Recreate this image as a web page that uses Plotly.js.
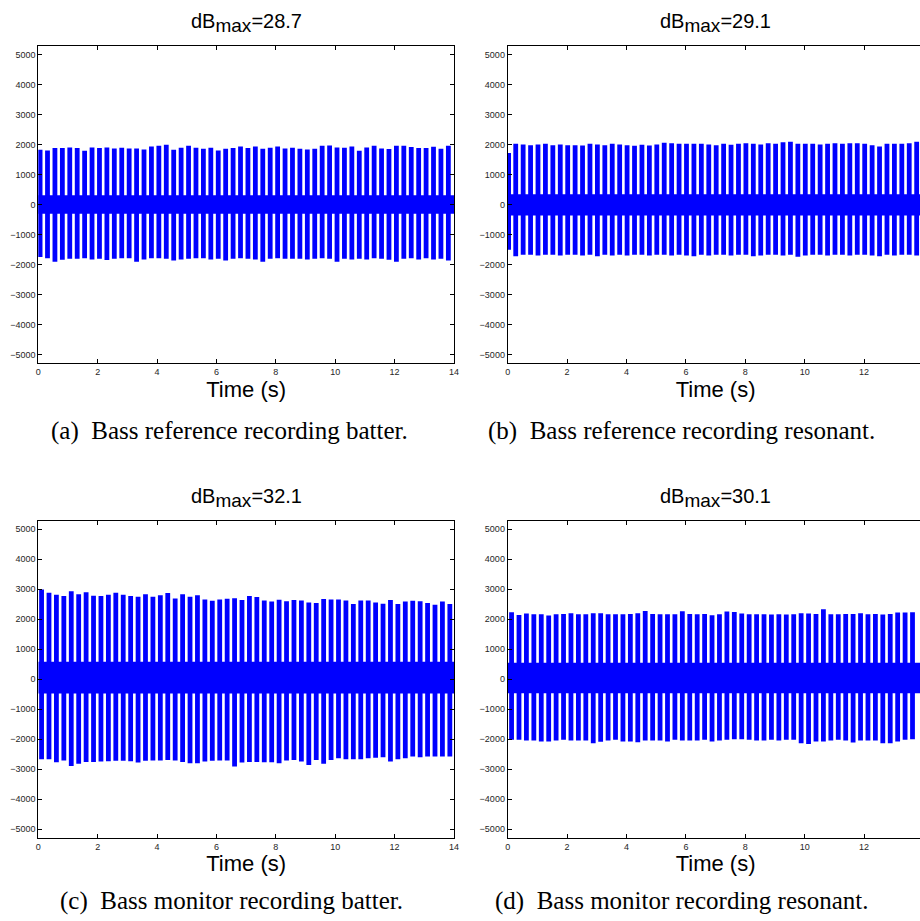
<!DOCTYPE html>
<html>
<head>
<meta charset="utf-8">
<script src="https://cdn.plot.ly/plotly-3.0.1.min.js"></script>
<style>
html,body{margin:0;padding:0;overflow:hidden;background:#fff;width:920px;height:921px;}
#chart{width:924px;height:921px;}
</style>
</head>
<body>
<div id="chart"></div>
<script>
// ---------- data ----------
const TITLE_BASE = "dB";
const TITLE_SUB = "max";
const DB_MAX = ["28.7", "29.1", "32.1", "30.1"];
const CAPTIONS = [
  "(a)\u00a0\u00a0Bass reference recording batter.",
  "(b)\u00a0\u00a0Bass reference recording resonant.",
  "(c)\u00a0\u00a0Bass monitor recording batter.",
  "(d)\u00a0\u00a0Bass monitor recording resonant."
];
const X_TICKS = [0, 2, 4, 6, 8, 10, 12, 14];
const Y_TICKS = [-5000, -4000, -3000, -2000, -1000, 0, 1000, 2000, 3000, 4000, 5000];
const X_LABEL = "Time (s)";

// (a) reference batter: beat times (s), positive peaks, negative troughs
const TIME_A = [
  0.06,0.31,0.56,0.81,1.06,1.31,1.56,1.81,
  2.06,2.31,2.56,2.81,3.06,3.31,3.56,3.81,
  4.06,4.31,4.56,4.81,5.06,5.31,5.56,5.81,
  6.06,6.31,6.56,6.81,7.06,7.31,7.56,7.81,
  8.06,8.31,8.56,8.81,9.06,9.31,9.56,9.81,
  10.06,10.31,10.56,10.81,11.06,11.31,11.56,11.81,
  12.06,12.31,12.56,12.81,13.06,13.31,13.56,13.81];
const PEAK_A = [
  1835,1813,1890,1890,1912,1890,1802,1912,
  1890,1912,1879,1901,1879,1879,1846,1945,
  1967,2000,1835,1901,1967,1901,1868,1901,
  1813,1868,1890,1945,1890,1945,1868,1901,
  1945,1879,1901,1868,1846,1868,1967,1978,
  1912,1901,1945,1802,1912,1967,1879,1857,
  1967,1967,1923,1890,1890,1934,1868,1967];
const TROUGH_A = [
  -1744,-1778,-1900,-1833,-1800,-1800,-1778,-1822,
  -1800,-1844,-1800,-1778,-1778,-1900,-1822,-1778,
  -1778,-1800,-1856,-1822,-1800,-1778,-1778,-1822,
  -1800,-1856,-1800,-1778,-1800,-1822,-1900,-1800,
  -1778,-1800,-1800,-1800,-1822,-1800,-1778,-1800,
  -1900,-1800,-1822,-1800,-1822,-1778,-1800,-1833,
  -1900,-1800,-1778,-1822,-1778,-1822,-1800,-1856];
const BAND_A = [-300, 320];

// (b) reference resonant
const TIME_B = [
  0.03,0.27,0.52,0.77,1.02,1.27,1.52,1.77,
  2.02,2.27,2.52,2.77,3.02,3.27,3.52,3.77,
  4.02,4.27,4.52,4.77,5.02,5.27,5.52,5.77,
  6.02,6.27,6.52,6.77,7.02,7.27,7.52,7.77,
  8.02,8.27,8.52,8.77,9.02,9.27,9.52,9.77,
  10.02,10.27,10.52,10.77,11.02,11.27,11.52,11.77,
  12.02,12.27,12.52,12.77,13.02,13.27,13.52,13.77];
const PEAK_B = [
  1725,2033,2011,1989,2011,2033,1989,2011,
  1989,1989,1978,2033,2011,1989,2033,2011,
  1989,1967,2000,1978,2011,2066,2055,2033,
  2033,2033,2033,2011,1989,2033,2000,2033,
  2055,2033,2011,2055,2033,2088,2099,2033,
  2033,2033,2011,2033,2055,2033,2055,2055,
  2033,1989,1945,2033,2033,2033,2055,2099];
const TROUGH_B = [
  -1500,-1711,-1667,-1667,-1689,-1667,-1667,-1689,
  -1667,-1667,-1689,-1667,-1711,-1667,-1689,-1667,
  -1689,-1667,-1667,-1689,-1667,-1667,-1689,-1667,
  -1689,-1711,-1667,-1689,-1667,-1667,-1689,-1667,
  -1667,-1711,-1689,-1667,-1667,-1689,-1667,-1733,
  -1689,-1667,-1667,-1689,-1667,-1667,-1689,-1667,
  -1667,-1689,-1711,-1667,-1689,-1667,-1667,-1689];
const BAND_B = [-360, 350];

// (c) monitor batter
const TIME_C = [
  0.11,0.36,0.61,0.86,1.11,1.36,1.61,1.86,
  2.11,2.36,2.61,2.86,3.11,3.36,3.61,3.86,
  4.11,4.36,4.61,4.86,5.11,5.36,5.61,5.86,
  6.11,6.36,6.61,6.86,7.11,7.36,7.61,7.86,
  8.11,8.36,8.61,8.86,9.11,9.36,9.61,9.86,
  10.11,10.36,10.61,10.86,11.11,11.36,11.61,11.86,
  12.11,12.36,12.61,12.86,13.11,13.36,13.61,13.86];
const PEAK_C = [
  2990,2880,2815,2770,2935,2835,2900,2780,
  2770,2815,2880,2815,2770,2750,2835,2750,
  2800,2870,2690,2835,2750,2800,2660,2615,
  2660,2680,2700,2640,2770,2740,2625,2590,
  2650,2600,2640,2625,2560,2540,2670,2660,
  2660,2625,2505,2625,2625,2560,2515,2640,
  2505,2590,2615,2600,2540,2480,2590,2505];
const TROUGH_C = [
  -2667,-2667,-2767,-2711,-2889,-2822,-2756,-2756,
  -2744,-2733,-2722,-2722,-2733,-2778,-2722,-2711,
  -2711,-2689,-2711,-2756,-2800,-2800,-2744,-2722,
  -2711,-2711,-2911,-2778,-2756,-2756,-2767,-2767,
  -2800,-2711,-2689,-2744,-2856,-2689,-2822,-2689,
  -2633,-2667,-2667,-2667,-2633,-2622,-2600,-2744,
  -2667,-2633,-2578,-2600,-2578,-2578,-2578,-2578];
const BAND_C = [-480, 580];

// (d) monitor resonant
const TIME_D = [
  0.13,0.38,0.63,0.88,1.13,1.38,1.63,1.88,
  2.13,2.38,2.63,2.88,3.13,3.38,3.63,3.88,
  4.13,4.38,4.63,4.88,5.13,5.38,5.63,5.88,
  6.13,6.38,6.63,6.88,7.13,7.38,7.63,7.88,
  8.13,8.38,8.63,8.88,9.13,9.38,9.63,9.88,
  10.13,10.38,10.63,10.88,11.13,11.38,11.63,11.88,
  12.13,12.38,12.63,12.88,13.13,13.38,13.63];
const PEAK_D = [
  2231,2143,2187,2165,2165,2121,2165,2176,
  2198,2165,2165,2198,2198,2165,2165,2165,
  2176,2198,2275,2176,2165,2165,2165,2264,
  2176,2165,2176,2132,2165,2253,2242,2187,
  2165,2165,2165,2154,2165,2154,2165,2198,
  2187,2176,2330,2165,2165,2176,2176,2198,
  2165,2176,2154,2176,2220,2220,2231];
const TROUGH_D = [
  -2022,-2022,-2044,-2044,-2078,-2078,-2044,-2022,
  -2044,-2044,-2044,-2133,-2089,-2044,-2022,-2078,
  -2078,-2100,-2044,-2044,-2044,-2078,-2022,-2044,
  -2044,-2044,-2022,-2078,-2044,-2022,-2000,-2000,
  -2022,-2044,-2044,-2022,-2044,-2022,-2022,-2133,
  -2156,-2078,-2078,-2044,-2022,-2044,-2111,-2044,
  -2044,-2044,-2133,-2133,-2078,-2022,-2000];
const BAND_D = [-470, 550];

// ---------- build figure ----------
const W = 924, H = 921;
const BLUE = "#0000ff";
const panels = [
  {t: TIME_A, p: PEAK_A, q: TROUGH_A, band: BAND_A},
  {t: TIME_B, p: PEAK_B, q: TROUGH_B, band: BAND_B},
  {t: TIME_C, p: PEAK_C, q: TROUGH_C, band: BAND_C},
  {t: TIME_D, p: PEAK_D, q: TROUGH_D, band: BAND_D}
];
// pixel boxes of plot areas [left, right, top, bottom]
const boxes = [
  [38.3, 454.0, 46.3, 363.3],
  [507.7, 923.5, 46.3, 363.3],
  [38.3, 454.0, 520.7, 837.7],
  [507.7, 923.5, 520.7, 837.7]
];
const captionPos = [[229.5, 431], [681, 431], [231, 901], [681.5, 901]];

const data = [];
const layout = {
  width: W, height: H,
  margin: {l: 0, r: 0, t: 0, b: 0},
  paper_bgcolor: "#fff", plot_bgcolor: "#fff",
  showlegend: false,
  font: {family: "Liberation Sans, Arial, sans-serif", color: "#000"},
  annotations: []
};
const xmin = X_TICKS[0], xmax = X_TICKS[X_TICKS.length - 1];

panels.forEach((pn, i) => {
  const k = i === 0 ? "" : String(i + 1);
  const xs = "x" + k, ys = "y" + k;
  // dense ringing band
  data.push({
    type: "scatter", mode: "lines", xaxis: xs, yaxis: ys,
    x: [xmin, xmax, xmax, xmin, xmin],
    y: [pn.band[0], pn.band[0], pn.band[1], pn.band[1], pn.band[0]],
    fill: "toself", fillcolor: BLUE, line: {width: 0, color: BLUE},
    hoverinfo: "skip"
  });
  // beat spikes
  const sx = [], sy = [];
  const n = Math.min(pn.t.length, pn.p.length, pn.q.length);
  for (let j = 0; j < n; j++) {
    sx.push(pn.t[j], pn.t[j], null);
    sy.push(pn.p[j], pn.q[j], null);
  }
  data.push({
    type: "scatter", mode: "lines", xaxis: xs, yaxis: ys,
    x: sx, y: sy, connectgaps: false,
    line: {color: BLUE, width: 4.8}
  });

  const b = boxes[i];
  const axCommon = {
    showline: true, linecolor: "#000", linewidth: 1, mirror: "ticks",
    ticks: "inside", ticklen: 4, tickwidth: 1, tickcolor: "#000",
    showgrid: false, zeroline: false,
    tickfont: {size: 9, color: "#262626", family: "Liberation Sans, Arial, sans-serif"}
  };
  layout["xaxis" + k] = Object.assign({}, axCommon, {
    domain: [b[0] / W, b[1] / W], anchor: ys,
    range: [xmin, xmax], tickvals: X_TICKS, ticktext: X_TICKS.map(String),
    title: {text: X_LABEL, font: {size: 22, family: "Liberation Sans, Arial, sans-serif", color: "#000"}, standoff: 4}
  });
  layout["yaxis" + k] = Object.assign({}, axCommon, {
    domain: [1 - b[3] / H, 1 - b[2] / H], anchor: xs,
    range: [-5283, 5283], tickvals: Y_TICKS,
    ticktext: Y_TICKS.map(v => v < 0 ? "\u2212" + Math.abs(v) : String(v))
  });
  layout.annotations.push({
    xref: "paper", yref: "paper",
    x: ((b[0] + b[1]) / 2) / W, y: 1 - (b[2] - 23) / H,
    xanchor: "center", yanchor: "middle", showarrow: false,
    text: TITLE_BASE + "<sub><span style='font-size:19px'>" + TITLE_SUB + "</span></sub>=" + DB_MAX[i],
    font: {size: 20, family: "Liberation Sans, Arial, sans-serif", color: "#000"}
  });
  const c = captionPos[i];
  layout.annotations.push({
    xref: "paper", yref: "paper",
    x: c[0] / W, y: 1 - c[1] / H,
    xanchor: "center", yanchor: "middle", showarrow: false,
    text: CAPTIONS[i],
    font: {size: 25, family: "Liberation Serif, Times New Roman, serif", color: "#000"}
  });
});

Plotly.newPlot("chart", data, layout, {displayModeBar: false, staticPlot: true});
</script>
</body>
</html>
